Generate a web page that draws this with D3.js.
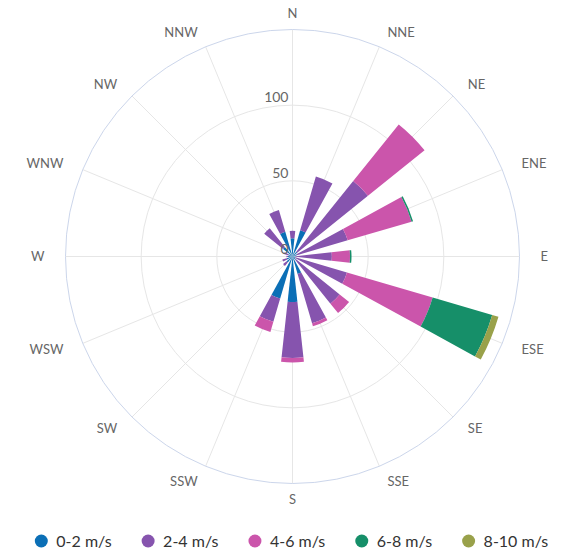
<!DOCTYPE html>
<html>
<head>
<meta charset="utf-8">
<script src="https://cdn.jsdelivr.net/npm/d3@7"></script>
<style>
  body { margin: 0; background: #fff; }
  svg { font-family: Lato, "Noto Sans", sans-serif; }
</style>
</head>
<body>
<div id="chart"></div>
<script>
// wind rose data, frequencies per direction
var directions = ["N", "NNE", "NE", "ENE", "E", "ESE", "SE", "SSE",
                  "S", "SSW", "SW", "WSW", "W", "WNW", "NW", "NNW"];
var seriesNames = ["0-2 m/s", "2-4 m/s", "4-6 m/s", "6-8 m/s", "8-10 m/s"];
var speed0_2  = [12, 18, 4, 3, 2, 2, 3, 12, 30, 29, 5, 4, 3, 3, 8, 17];
var speed2_4  = [5, 37, 60, 35, 24, 35.5, 37, 34, 37, 16, 3, 3, 1, 3, 16, 15];
var speed4_6  = [0, 0, 48, 44, 12, 59, 8, 2, 3, 7, 0, 0, 0, 0, 0, 0];
var speed6_8  = [0, 0, 0, 1, 1, 41, 0, 0, 0, 0, 0, 0, 0, 0, 0, 0];
var speed8_10 = [0, 0, 0, 0, 0, 4.3, 0, 0, 0, 0, 0, 0, 0, 0, 0, 0];
var yTicks = [0, 50, 100];
var yMax = 150;

var colors = ["#0b6fb6", "#8654ae", "#cb55ab", "#168f69", "#99a14a"];

var width = 583, height = 556;
var cx = 292.5, cy = 256.5, R = 227;

var svg = d3.select("#chart").append("svg")
    .attr("width", width)
    .attr("height", height);

var g = svg.append("g").attr("transform", "translate(" + cx + "," + cy + ")");

var x = d3.scaleBand()
    .domain(directions)
    .range([0, 2 * Math.PI])
    .paddingInner(0.45)
    .paddingOuter(0.225)
    .align(0.5);
// band centred on the direction angle
var step = 2 * Math.PI / directions.length;
function angleOf(d) { return directions.indexOf(d) * step; }

var y = d3.scaleLinear().domain([0, yMax]).range([0, R]);

// grid circles
g.selectAll("circle.grid")
    .data(yTicks.filter(function(t) { return t > 0; }))
    .enter().append("circle")
    .attr("class", "grid")
    .attr("r", function(d) { return y(d); })
    .attr("fill", "none")
    .attr("stroke", "#e6e6e6")
    .attr("stroke-width", 1);

// radial grid lines
g.selectAll("line.spoke")
    .data(directions)
    .enter().append("line")
    .attr("class", "spoke")
    .attr("x1", 0).attr("y1", 0)
    .attr("x2", function(d) { return R * Math.sin(angleOf(d)); })
    .attr("y2", function(d) { return -R * Math.cos(angleOf(d)); })
    .attr("stroke", "#e6e6e6")
    .attr("stroke-width", 1);

// outer axis circle
g.append("circle")
    .attr("r", R)
    .attr("fill", "none")
    .attr("stroke", "#ccd6eb")
    .attr("stroke-width", 1);

// stacked wedges
var table = directions.map(function(d, i) {
    return { dir: d, s0: speed0_2[i], s1: speed2_4[i], s2: speed4_6[i], s3: speed6_8[i], s4: speed8_10[i] };
});
var stack = d3.stack().keys(["s0", "s1", "s2", "s3", "s4"]);
var layers = stack(table);

var half = x.bandwidth() / 2;
var arc = d3.arc()
    .innerRadius(function(d) { return y(d[0]); })
    .outerRadius(function(d) { return y(d[1]); })
    .startAngle(function(d) { return angleOf(d.data.dir) - half; })
    .endAngle(function(d) { return angleOf(d.data.dir) + half; });

g.selectAll("g.layer")
    .data(layers)
    .enter().append("g")
    .attr("class", "layer")
    .attr("fill", function(d, i) { return colors[i]; })
    .selectAll("path")
    .data(function(d) { return d.filter(function(p) { return p[1] > p[0]; }); })
    .enter().append("path")
    .attr("d", arc);

// y axis labels
g.selectAll("text.ylab")
    .data(yTicks)
    .enter().append("text")
    .attr("class", "ylab")
    .attr("x", -4)
    .attr("y", function(d) { return -y(d) - 3; })
    .attr("text-anchor", "end")
    .attr("fill", "#666")
    .style("font-size", "14px")
    .text(function(d) { return d; });

// direction labels
var labR = R + 16;
g.selectAll("text.xlab")
    .data(directions)
    .enter().append("text")
    .attr("class", "xlab")
    .attr("x", function(d) { return (labR + 5) * Math.sin(angleOf(d)); })
    .attr("y", function(d) { return -labR * Math.cos(angleOf(d)); })
    .attr("dy", "0.35em")
    .attr("text-anchor", function(d) {
        var s = Math.sin(angleOf(d));
        if (Math.abs(s) < 1e-6) return "middle";
        return s > 0 ? "start" : "end";
    })
    .attr("fill", "#666")
    .style("font-size", "13px")
    .text(function(d) { return d; });

// legend
var legend = svg.append("g").attr("transform", "translate(0,541)");
var items = legend.selectAll("g.item")
    .data(seriesNames)
    .enter().append("g")
    .attr("class", "item");
items.append("circle")
    .attr("r", 6.5)
    .attr("cx", 6.5)
    .attr("fill", function(d, i) { return colors[i]; });
items.append("text")
    .attr("x", 21.5)
    .attr("dy", "0.35em")
    .attr("fill", "#333")
    .style("font-size", "16px")
    .text(function(d) { return d; });

var pos = 0, itemDistance = 30, offsets = [];
items.each(function() {
    offsets.push(pos);
    pos += 21.5 + this.querySelector("text").getComputedTextLength() + itemDistance;
});
var total = pos - itemDistance;
var startX = (width - total) / 2;
items.attr("transform", function(d, i) { return "translate(" + (startX + offsets[i]) + ",0)"; });
</script>
</body>
</html>
